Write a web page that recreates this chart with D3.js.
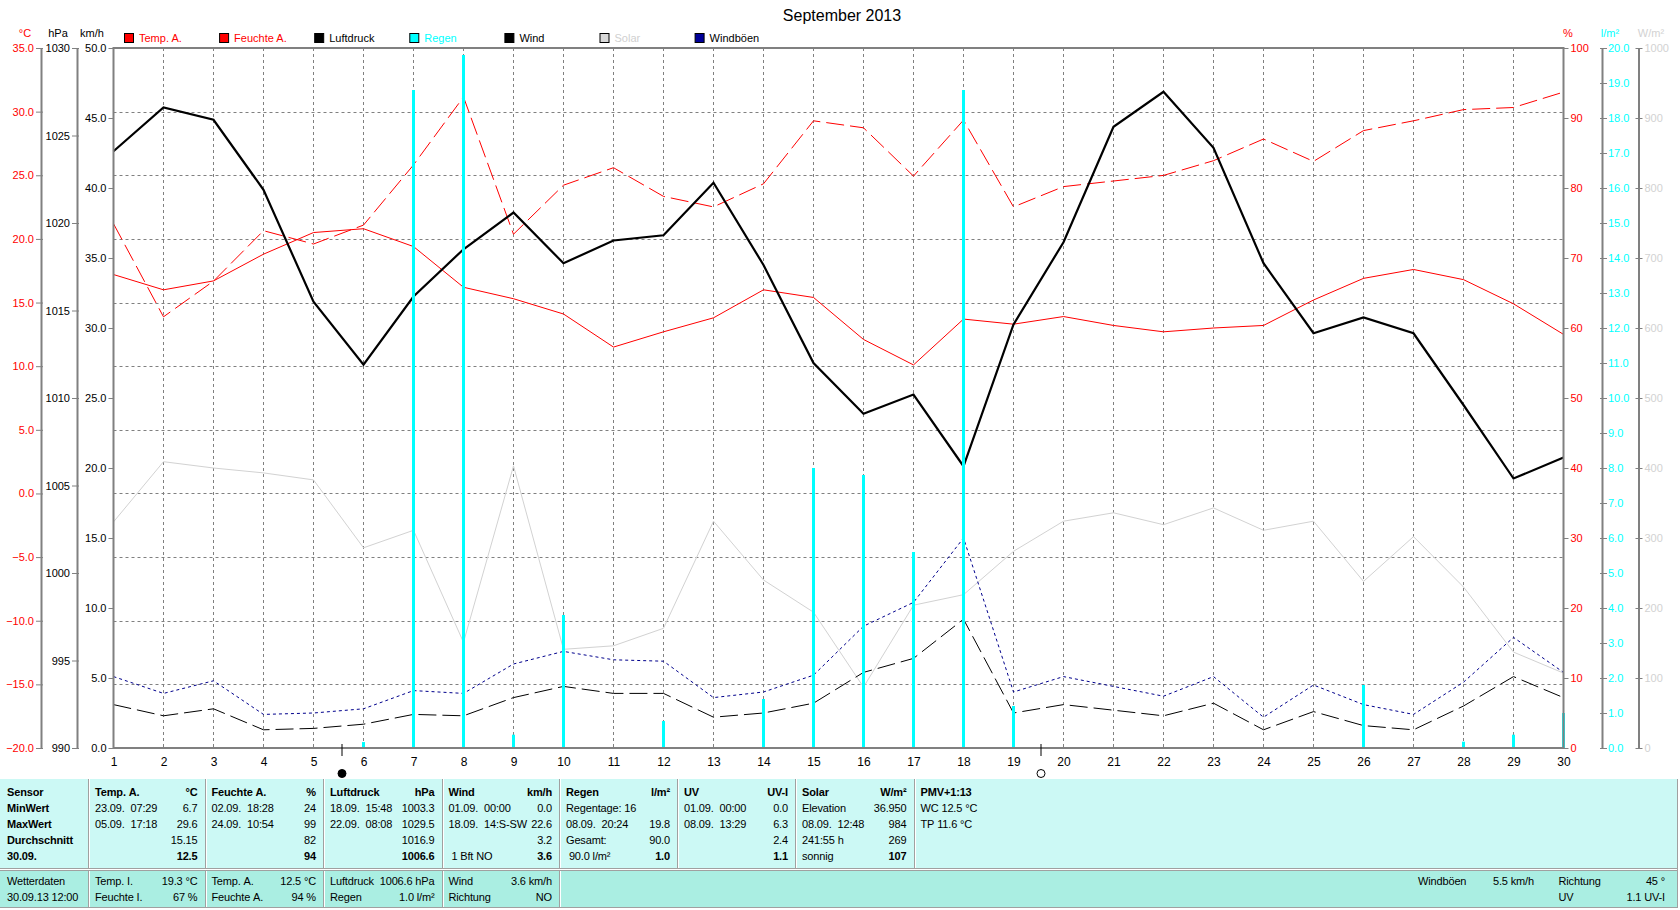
<!DOCTYPE html>
<html>
<head>
<meta charset="utf-8">
<script src="https://cdn.jsdelivr.net/npm/d3@7"></script>
<style>
  body { margin: 0; background: #fff; }
  svg { display: block; font-family: "Liberation Sans", Arial, sans-serif; }
</style>
</head>
<body>
<svg id="chart" width="1680" height="910"></svg>
<script>
'use strict';

// --- data (daily values, September 2013) ---
const days = d3.range(1, 31);
const tempA = [17.2, 16.0, 16.7, 18.8, 20.5, 20.8, 19.4, 16.2, 15.3, 14.1, 11.5, 12.7, 13.8, 16.0, 15.4,
  12.1, 10.1, 13.7, 13.3, 13.9, 13.2, 12.7, 13.0, 13.2, 15.2, 16.9, 17.6, 16.8, 14.9, 12.5];
const humidityA = [74.9, 61.6, 66.7, 73.9, 72.0, 74.7, 83.3, 93.0, 73.4, 80.4, 82.9, 78.8, 77.3, 80.6, 89.6,
  88.6, 81.7, 89.7, 77.3, 80.2, 81.0, 81.8, 83.9, 87.0, 83.8, 88.2, 89.6, 91.2, 91.5, 93.7];
const pressure = [1024.1, 1026.6, 1025.9, 1021.9, 1015.5, 1011.9, 1015.8, 1018.5, 1020.6, 1017.7, 1019.0, 1019.3,
  1022.3, 1017.6, 1012.0, 1009.1, 1010.2, 1006.1, 1014.2, 1018.9, 1025.5, 1027.5, 1024.3, 1017.7, 1013.7,
  1014.6, 1013.7, 1009.6, 1005.4, 1006.6];
const wind = [3.1, 2.3, 2.8, 1.3, 1.4, 1.7, 2.4, 2.3, 3.6, 4.4, 3.9, 3.9, 2.2, 2.5, 3.2,
  5.4, 6.4, 9.2, 2.5, 3.1, 2.7, 2.3, 3.2, 1.3, 2.6, 1.6, 1.3, 3.0, 5.1, 3.6];
const gusts = [5.1, 3.9, 4.8, 2.4, 2.5, 2.8, 4.1, 3.9, 6.0, 6.9, 6.3, 6.2, 3.6, 4.0, 5.2,
  8.7, 10.4, 15.0, 4.0, 5.1, 4.4, 3.7, 5.1, 2.2, 4.5, 3.1, 2.4, 4.7, 7.9, 5.4];
const solar = [323, 409, 400, 393, 383, 286, 311, 151, 403, 141, 146, 171, 324, 240, 194,
  87, 204, 219, 281, 324, 336, 319, 343, 311, 324, 238, 302, 230, 137, 107];
const rain = [0, 0, 0, 0, 0, 0.17, 18.8, 19.8, 0.38, 3.8, 0, 0.77, 0, 1.4, 8.0,
  7.8, 5.6, 18.8, 1.2, 0, 0, 0, 0, 0, 0, 1.8, 0, 0.18, 0.38, 1.0];
const moonPhases = [{day: 5.57, phase: 'new'}, {day: 19.55, phase: 'full'}];

const legendNames = ['Temp. A.', 'Feuchte A.', 'Luftdruck', 'Regen', 'Wind', 'Solar', 'Windböen'];

const tempTicks = d3.range(-20, 36, 5);
const pressureTicks = d3.range(990, 1031, 5);
const windTicks = d3.range(0, 51, 5);
const humidityTicks = d3.range(0, 101, 10);
const rainTicks = d3.range(0, 21, 1);
const solarTicks = d3.range(0, 1001, 100);

// stats table: one array per column, rows of [left text, right text]
const statCols = [
  [['Sensor', ''], ['MinWert', ''], ['MaxWert', ''], ['Durchschnitt', ''], ['30.09.', '']],
  [['Temp. A.', '°C'], ['23.09.  07:29', '6.7'], ['05.09.  17:18', '29.6'], ['', '15.15'], ['', '12.5']],
  [['Feuchte A.', '%'], ['02.09.  18:28', '24'], ['24.09.  10:54', '99'], ['', '82'], ['', '94']],
  [['Luftdruck', 'hPa'], ['18.09.  15:48', '1003.3'], ['22.09.  08:08', '1029.5'], ['', '1016.9'], ['', '1006.6']],
  [['Wind', 'km/h'], ['01.09.  00:00', '0.0'], ['18.09.  14:S-SW', '22.6'], ['', '3.2'], [' 1 Bft NO', '3.6']],
  [['Regen', 'l/m²'], ['Regentage: 16', ''], ['08.09.  20:24', '19.8'], ['Gesamt:', '90.0'], [' 90.0 l/m²', '1.0']],
  [['UV', 'UV-I'], ['01.09.  00:00', '0.0'], ['08.09.  13:29', '6.3'], ['', '2.4'], ['', '1.1']],
  [['Solar', 'W/m²'], ['Elevation', '36.950'], ['08.09.  12:48', '984'], ['241:55 h', '269'], ['sonnig', '107']],
  [['PMV+1:13', ''], ['WC 12.5 °C', ''], ['TP 11.6 °C', ''], ['', ''], ['', '']]
];
const currentCols = [
  [['Wetterdaten', ''], ['30.09.13 12:00', '']],
  [['Temp. I.', '19.3 °C'], ['Feuchte I.', '67 %']],
  [['Temp. A.', '12.5 °C'], ['Feuchte A.', '94 %']],
  [['Luftdruck', '1006.6 hPa'], ['Regen', '1.0 l/m²']],
  [['Wind', '3.6 km/h'], ['Richtung', 'NO']]
];
const currentExtra = [
  [['Windböen', '5.5 km/h'], ['', '']],
  [['Richtung', '45 °'], ['UV', '1.1 UV-I']]
];

// --- layout ---
const plot = {left: 113.5, right: 1563.5, top: 48, bottom: 748};
const RED = '#ff0000', CYAN = '#00ffff', SOLAR = '#d2d2d2', GRID = '#808080', NAVY = '#00008c';
const FONT = '"Liberation Sans", Arial, sans-serif';

const svg = d3.select('#chart');

const x = d3.scaleLinear().domain([1, 30]).range([plot.left, plot.right]);
const yTemp = d3.scaleLinear().domain([-20, 35]).range([plot.bottom, plot.top]);
const yPress = d3.scaleLinear().domain([990, 1030]).range([plot.bottom, plot.top]);
const yWind = d3.scaleLinear().domain([0, 50]).range([plot.bottom, plot.top]);
const yHum = d3.scaleLinear().domain([0, 100]).range([plot.bottom, plot.top]);
const yRain = d3.scaleLinear().domain([0, 20]).range([plot.bottom, plot.top]);
const ySolar = d3.scaleLinear().domain([0, 1000]).range([plot.bottom, plot.top]);

// keep runs of spaces as in the original table
const keep = s => s.replace(/ /g, '\u00a0');

// title
svg.append('text')
  .attr('x', 842).attr('y', 21)
  .attr('text-anchor', 'middle')
  .attr('font-size', 16)
  .text('September 2013');

// grid
const grid = svg.append('g')
  .attr('stroke', GRID)
  .attr('stroke-width', 1)
  .attr('stroke-dasharray', '3,3');

grid.selectAll('line.v')
  .data(days.slice(1, -1))
  .join('line')
  .attr('class', 'v')
  .attr('x1', d => x(d)).attr('x2', d => x(d))
  .attr('y1', plot.top).attr('y2', plot.bottom);

grid.selectAll('line.h')
  .data(tempTicks.slice(1, -1))
  .join('line')
  .attr('class', 'h')
  .attr('x1', plot.left).attr('x2', plot.right)
  .attr('y1', d => Math.round(yTemp(d)) + 0.5)
  .attr('y2', d => Math.round(yTemp(d)) + 0.5);

// series
const lineFor = (values, y) => d3.line()
  .x((d, i) => x(days[i]))
  .y(d => y(d))(values);

svg.append('path')
  .attr('d', lineFor(solar, ySolar))
  .attr('fill', 'none').attr('stroke', SOLAR).attr('stroke-width', 1);

svg.append('path')
  .attr('d', lineFor(tempA, yTemp))
  .attr('fill', 'none').attr('stroke', RED).attr('stroke-width', 1);

svg.append('path')
  .attr('d', lineFor(humidityA, yHum))
  .attr('fill', 'none').attr('stroke', RED).attr('stroke-width', 1)
  .attr('stroke-dasharray', '18,6');

svg.append('path')
  .attr('d', lineFor(pressure, yPress))
  .attr('fill', 'none').attr('stroke', '#000').attr('stroke-width', 2.2)
  .attr('stroke-linejoin', 'miter');

svg.append('path')
  .attr('d', lineFor(wind, yWind))
  .attr('fill', 'none').attr('stroke', '#000').attr('stroke-width', 1)
  .attr('stroke-dasharray', '18,6');

svg.append('path')
  .attr('d', lineFor(gusts, yWind))
  .attr('fill', 'none').attr('stroke', NAVY).attr('stroke-width', 1)
  .attr('stroke-dasharray', '3,3');

svg.append('g')
  .selectAll('rect')
  .data(days.map((d, i) => ({day: d, value: rain[i]})).filter(d => d.value > 0))
  .join('rect')
  .attr('x', d => x(d.day) - 1.5)
  .attr('width', 3)
  .attr('y', d => yRain(d.value))
  .attr('height', d => plot.bottom - yRain(d.value))
  .attr('fill', CYAN);

// frame
svg.append('rect')
  .attr('x', plot.left).attr('y', plot.top)
  .attr('width', plot.right - plot.left).attr('height', plot.bottom - plot.top)
  .attr('fill', 'none').attr('stroke', GRID).attr('stroke-width', 2);

// axes
function styleAxis(g, color, x1, x2, showDomain) {
  g.attr('font-size', 11).attr('font-family', FONT).attr('color', color);
  g.select('.domain')
    .attr('stroke', GRID).attr('stroke-width', 2)
    .attr('display', showDomain ? null : 'none');
  g.selectAll('.tick line').attr('stroke', GRID).attr('x1', x1).attr('x2', x2);
}

const f1 = d3.format('.1f');

styleAxis(svg.append('g').attr('transform', 'translate(41,0)')
  .call(d3.axisLeft(yTemp).tickValues(tempTicks).tickFormat(f1).tickSize(5).tickSizeOuter(0).tickPadding(2)),
  RED, -5, 2, true);

styleAxis(svg.append('g').attr('transform', 'translate(77,0)')
  .call(d3.axisLeft(yPress).tickValues(pressureTicks).tickFormat(d3.format('d')).tickSize(5).tickSizeOuter(0).tickPadding(2)),
  '#000', -5, 2, true);

styleAxis(svg.append('g').attr('transform', `translate(${plot.left},0)`)
  .call(d3.axisLeft(yWind).tickValues(windTicks).tickFormat(f1).tickSize(5).tickSizeOuter(0).tickPadding(2)),
  '#000', -5, 0, false);

styleAxis(svg.append('g').attr('transform', `translate(${plot.right},0)`)
  .call(d3.axisRight(yHum).tickValues(humidityTicks).tickFormat(d3.format('d')).tickSize(5).tickSizeOuter(0).tickPadding(2)),
  RED, 0, 5, false);

styleAxis(svg.append('g').attr('transform', 'translate(1602,0)')
  .call(d3.axisRight(yRain).tickValues(rainTicks).tickFormat(f1).tickSize(5).tickSizeOuter(0).tickPadding(1)),
  CYAN, -2, 5, true);

styleAxis(svg.append('g').attr('transform', 'translate(1638.5,0)')
  .call(d3.axisRight(ySolar).tickValues(solarTicks).tickFormat(d3.format('d')).tickSize(5).tickSizeOuter(0).tickPadding(1)),
  SOLAR, -3, 4, true);

const xAxis = svg.append('g').attr('transform', `translate(0,${plot.bottom})`)
  .call(d3.axisBottom(x).tickValues(days).tickFormat(d3.format('d')).tickSize(0).tickPadding(9));
xAxis.attr('font-size', 12).attr('font-family', FONT).attr('color', '#000');
xAxis.select('.domain').remove();

// axis units
const units = [
  {t: '°C', x: 25, c: RED}, {t: 'hPa', x: 58, c: '#000'}, {t: 'km/h', x: 92, c: '#000'},
  {t: '%', x: 1568, c: RED}, {t: 'l/m²', x: 1610, c: CYAN}, {t: 'W/m²', x: 1651, c: SOLAR}
];
svg.append('g').selectAll('text').data(units).join('text')
  .attr('x', d => d.x).attr('y', 37)
  .attr('text-anchor', 'middle')
  .attr('font-size', 11)
  .attr('fill', d => d.c)
  .text(d => d.t);

// legend
const legendFill = [RED, RED, '#000', CYAN, '#000', '#d8d8d8', '#000099'];
const legendText = [RED, RED, '#000', CYAN, '#000', '#d0d0d0', '#000'];
const legend = svg.append('g').selectAll('g').data(legendNames).join('g')
  .attr('transform', (d, i) => `translate(${124.5 + i * 95.1},33.5)`);
legend.append('rect')
  .attr('width', 9).attr('height', 9)
  .attr('fill', (d, i) => legendFill[i])
  .attr('stroke', '#000').attr('stroke-width', 1);
legend.append('text')
  .attr('x', 14.5).attr('y', 8.5)
  .attr('font-size', 11)
  .attr('fill', (d, i) => legendText[i])
  .text(d => d);

// moon phases
const moon = svg.append('g').selectAll('g').data(moonPhases).join('g')
  .attr('transform', d => `translate(${x(d.day)},0)`);
moon.append('line')
  .attr('y1', 744).attr('y2', 756)
  .attr('stroke', '#000');
moon.append('circle')
  .attr('cy', 773.5).attr('r', 4)
  .attr('fill', d => d.phase === 'new' ? '#000' : 'none')
  .attr('stroke', '#000');

// stats table
const colX = [0, 88, 204.5, 323, 441.5, 559, 677, 795, 913.5, 1677];
const table = svg.append('g').attr('font-size', 11).attr('letter-spacing', -0.15);

table.append('rect').attr('x', 0).attr('y', 779).attr('width', 1677).attr('height', 89).attr('fill', '#ccf9f5');
table.append('rect').attr('x', 0).attr('y', 871).attr('width', 1677).attr('height', 37).attr('fill', '#aaeee2');

[868.5, 870.5, 907.5].forEach(y => {
  table.append('line').attr('x1', 0).attr('x2', 1677).attr('y1', y).attr('y2', y).attr('stroke', '#a0a0a0');
});
table.append('line').attr('x1', 1677.5).attr('x2', 1677.5).attr('y1', 779).attr('y2', 908).attr('stroke', '#a0a0a0');

colX.slice(1, -1).forEach((cx, i) => {
  const xs = Math.round(cx) + 0.5;
  table.append('line').attr('x1', xs).attr('x2', xs).attr('y1', 779).attr('y2', 868).attr('stroke', '#a0a0a0');
  table.append('line').attr('x1', xs + 1).attr('x2', xs + 1).attr('y1', 779).attr('y2', 868).attr('stroke', '#fff');
  if (i < 5) {
    table.append('line').attr('x1', xs).attr('x2', xs).attr('y1', 871).attr('y2', 907).attr('stroke', '#a0a0a0');
    table.append('line').attr('x1', xs + 1).attr('x2', xs + 1).attr('y1', 871).attr('y2', 907).attr('stroke', '#fff');
  }
});

statCols.forEach((col, ci) => {
  col.forEach((row, ri) => {
    const y = 795.5 + ri * 16;
    const boldLeft = ci === 0 || ri === 0;
    const boldRight = ri === 0 || ri === 4;
    table.append('text')
      .attr('x', colX[ci] + 7).attr('y', y)
      .attr('font-weight', boldLeft ? 'bold' : null)
      .text(keep(row[0]));
    table.append('text')
      .attr('x', colX[ci + 1] - 7).attr('y', y)
      .attr('text-anchor', 'end')
      .attr('font-weight', boldRight ? 'bold' : null)
      .text(keep(row[1]));
  });
});

currentCols.forEach((col, ci) => {
  col.forEach((row, ri) => {
    const y = 884.5 + ri * 16;
    table.append('text').attr('x', colX[ci] + 7).attr('y', y).text(keep(row[0]));
    table.append('text').attr('x', colX[ci + 1] - 7).attr('y', y).attr('text-anchor', 'end').text(keep(row[1]));
  });
});

const extraX = [[1418, 1534], [1558.5, 1665]];
currentExtra.forEach((col, ci) => {
  col.forEach((row, ri) => {
    const y = 884.5 + ri * 16;
    table.append('text').attr('x', extraX[ci][0]).attr('y', y).text(keep(row[0]));
    table.append('text').attr('x', extraX[ci][1]).attr('y', y).attr('text-anchor', 'end').text(keep(row[1]));
  });
});
</script>
</body>
</html>
